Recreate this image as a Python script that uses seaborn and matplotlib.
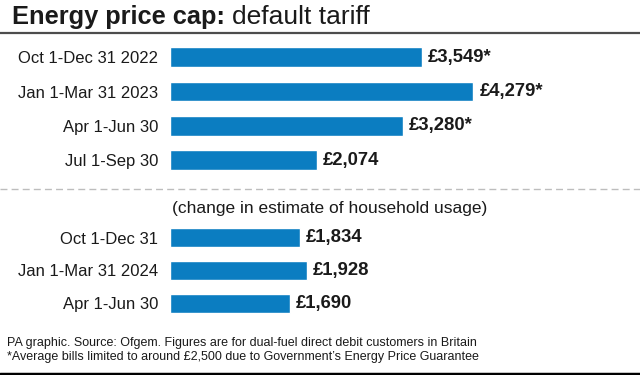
import matplotlib
matplotlib.use("Agg")
import pandas as pd
import seaborn as sns
import matplotlib.pyplot as plt
from matplotlib.lines import Line2D

# data
top_periods = ["Oct 1-Dec 31 2022", "Jan 1-Mar 31 2023", "Apr 1-Jun 30", "Jul 1-Sep 30"]
top_values = [3549, 4279, 3280, 2074]
top_notes = ["*", "*", "*", ""]

bottom_periods = ["Oct 1-Dec 31", "Jan 1-Mar 31 2024", "Apr 1-Jun 30"]
bottom_values = [1834, 1928, 1690]
bottom_notes = ["", "", ""]

title_bold = "Energy price cap:"
title_rest = "default tariff"
subtitle = "(change in estimate of household usage)"
footer = ["PA graphic. Source: Ofgem. Figures are for dual-fuel direct debit customers in Britain",
          "*Average bills limited to around £2,500 due to Government’s Energy Price Guarantee"]

blue = "#0b7dc1"
ink = "#1a1a1a"

sns.set_theme(style="white")
plt.rcParams['font.family'] = ['Liberation Sans', 'DejaVu Sans']

W, H = 640, 375
fig = plt.figure(figsize=(6.4, 3.75), dpi=100)

ax_top = fig.add_axes([170 / W, (H - 177.5) / H, 468 / W, 137.6 / H])
ax_bot = fig.add_axes([170 / W, (H - 320) / H, 468 / W, 99 / H])

top_df = pd.DataFrame({"period": top_periods, "value": top_values})
bot_df = pd.DataFrame({"period": bottom_periods, "value": bottom_values})

for ax, df, notes, nrows, w in [(ax_top, top_df, top_notes, 4, 0.58),
                                (ax_bot, bot_df, bottom_notes, 3, 0.6)]:
    sns.barplot(data=df, x="value", y="period", ax=ax, color=blue,
                saturation=1, width=w, errorbar=None)
    ax.set_xlim(0, 6600)
    ax.set_ylim(nrows - 0.5, -0.5)
    ax.set_xlabel("")
    ax.set_ylabel("")
    ax.set_xticks([])
    sns.despine(ax=ax, left=True, bottom=True)
    ax.tick_params(axis="y", length=0, pad=8.5, labelsize=12, labelcolor=ink)
    labels = [f"£{v:,}{n}" for v, n in zip(df["value"], notes)]
    ax.bar_label(ax.containers[0], labels=labels, padding=4.3,
                 fontsize=13.3, fontweight="bold", color=ink)
    ax.patch.set_alpha(0)

# title in two weights
t1 = fig.text(12 / W, 1 - 17 / H, title_bold, fontsize=18.3, fontweight="bold",
              color=ink, va="center")
fig.canvas.draw()
bb = t1.get_window_extent()
fig.text((bb.x1 + 7) / W, 1 - 17 / H, title_rest, fontsize=19, color=ink, va="center")

fig.add_artist(Line2D([0, 1], [1 - 33 / H] * 2, transform=fig.transFigure,
                      color="#4d4d4d", lw=1.6))
fig.add_artist(Line2D([0, 1], [1 - 189 / H] * 2, transform=fig.transFigure,
                      color="#bdbdbd", lw=1, linestyle=(0, (5, 3))))
fig.text(172 / W, 1 - 208 / H, subtitle, fontsize=12.5, color=ink, va="center")

fig.text(7 / W, 1 - 343 / H, footer[0], fontsize=9, color=ink, va="center")
fig.text(7 / W, 1 - 357 / H, footer[1], fontsize=9, color=ink, va="center")
fig.add_artist(Line2D([0, 1], [1 - 373.5 / H] * 2, transform=fig.transFigure,
                      color="black", lw=2.5))

fig.savefig("out.png", dpi=100)
